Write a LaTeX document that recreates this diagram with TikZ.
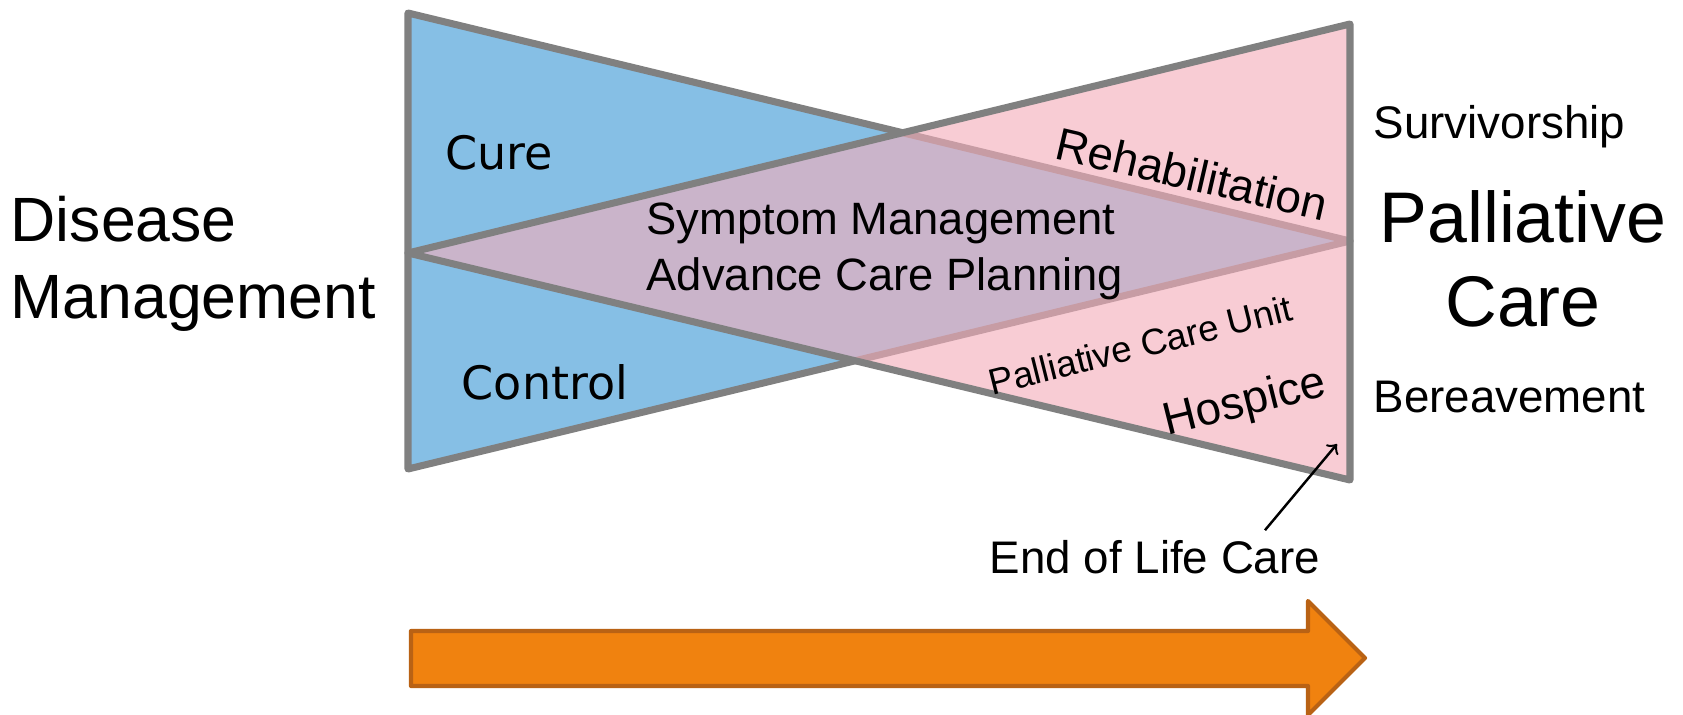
\documentclass[tikz,border=0pt]{standalone}
\usepackage{fontspec}
\setmainfont{Liberation Sans}
\newfontfamily\verdanafont{DejaVu Sans}
\usetikzlibrary{positioning}
\definecolor{cureblue}{RGB}{134,191,229}
\definecolor{carepink}{RGB}{244,174,187}
\definecolor{edgegray}{RGB}{128,128,128}
\definecolor{arroworange}{RGB}{240,130,15}
\definecolor{arrowrim}{RGB}{185,98,20}

\begin{document}
\begin{tikzpicture}[x=0.1mm, y=-0.1mm, line join=round,
    wedge/.style={draw=edgegray, line width=2pt},
    textlabel/.style={inner sep=0pt, font=\fontsize{13}{15}\selectfont},
    curetext/.style={inner sep=0pt, font=\verdanafont\fontsize{13.1}{15}\selectfont},
    bigtext/.style={inner sep=0pt, font=\fontsize{17.8}{21.9}\selectfont}]
  \useasboundingbox (0,0) rectangle (1683,715);
  \fill[white] (0,0) rectangle (1683,715);

  \draw[wedge, fill=cureblue] (408,13) -- (408,469) -- (1350,241) -- cycle;
  \draw[wedge, fill=carepink, fill opacity=0.62] (1350,24) -- (1350,480) -- (408,253) -- cycle;
  \draw[fill=arroworange, draw=arrowrim, line width=1.2pt] (411,631) -- (1308,631) -- (1308,601)
    -- (1365,658) -- (1308,715) -- (1308,686) -- (411,686) -- cycle;

  \node[bigtext, align=left, anchor=west] (disease) at (10,264) {Disease\\Management};
  \node[curetext, anchor=base] (cure) at (499,169) {Cure};
  \node[curetext, anchor=base] (control) at (545,399) {Control};
  \node[textlabel, align=left, anchor=west, font=\fontsize{12.9}{16}\selectfont] (symptom) at (646,251) {Symptom Management\\Advance Care Planning};
  \node[textlabel, rotate=-13] (rehab) at (1192,174) {Rehabilitation};
  \node[textlabel, rotate=14, font=\fontsize{10.4}{12}\selectfont] (unit) at (1140,345) {Palliative Care Unit};
  \node[textlabel, rotate=14] (hospice) at (1245,404) {Hospice};
  \node[textlabel, anchor=base west] (survivorship) at (1373,138) {Survivorship};
  \node[bigtext, align=center, font=\fontsize{20.4}{24}\selectfont] (palliative) at (1523,259) {Palliative\\Care};
  \node[textlabel, anchor=base west] (bereavement) at (1373,412) {Bereavement};
  \node[textlabel, anchor=base] (endoflife) at (1155,573) {End of Life Care};

  \coordinate (lastcorner) at (1337,444);
  \draw[->, line width=0.7pt] ([xshift=11mm, yshift=0.9mm]endoflife.north) -- (lastcorner);
\end{tikzpicture}
\end{document}
